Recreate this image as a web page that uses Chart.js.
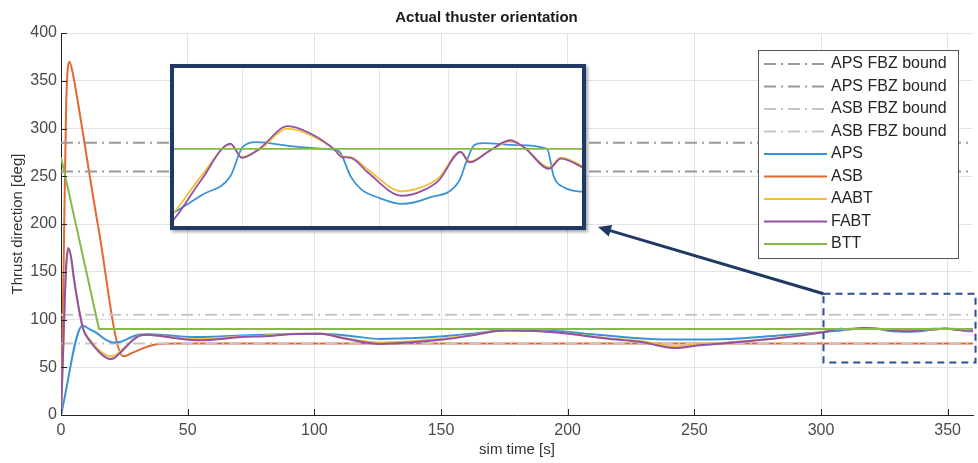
<!DOCTYPE html>
<html>
<head>
<meta charset="utf-8">
<title>Actual thuster orientation</title>
<script src="https://cdn.jsdelivr.net/npm/chart.js@4.4.1/dist/chart.umd.min.js"></script>
<style>
  html, body { margin: 0; padding: 0; background: #fff; }
  #wrap { position: relative; width: 978px; height: 463px; }
  #mainChart { position: absolute; left: 0; top: 0; }
  #inset {
    position: absolute; left: 170px; top: 64px;
    width: 408px; height: 158px;
    border: 4px solid #1f3864;
    box-shadow: 2px 2px 3px rgba(0, 0, 0, 0.35);
    background: #fff;
  }
  #insetChart { display: block; }
</style>
</head>
<body>
<div id="wrap">
  <canvas id="mainChart" width="978" height="463"></canvas>
  <div id="inset"><canvas id="insetChart" width="408" height="158"></canvas></div>
</div>
<script>
// ---- data ----
const seriesNames = ['APS FBZ bound', 'APS FBZ bound', 'ASB FBZ bound', 'ASB FBZ bound', 'APS', 'ASB', 'AABT', 'FABT', 'BTT'];
const xTicks = [0, 50, 100, 150, 200, 250, 300, 350];
const yTicks = [0, 50, 100, 150, 200, 250, 300, 350, 400];
const insetTicks = [310, 320, 330, 340, 350];

// forbidden zone bounds [deg]
const boundTime = [0, 360];
const apsBounds = [285, 255];
const asbBounds = [105, 75];

// APS
const apsTime = [0, 8.5, 11.5, 14, 17, 20.7, 24, 28.6, 31.2, 35, 42, 51, 60, 70.8, 80, 90.5, 102.4, 115, 126, 140,
  151, 162, 174.7, 185, 197, 210, 225, 240.7, 263, 282, 300, 304, 308.25, 310, 312, 317, 322.3, 324, 325.8, 327.3,
  330, 333.2, 337, 341.6, 342.6, 343.8, 345, 350, 354.4, 355.4, 356.9, 360];
const apsDir = [0, 93.5, 89.5, 86, 80, 76, 77, 82.5, 84.2, 84.5, 83.5, 81.8, 82, 83.2, 84, 84.9, 85, 82.5, 79.7, 80.5,
  82.5, 85, 88.4, 88.5, 87.7, 84.5, 81, 79, 79.7, 83, 86.7, 87.6, 88.6, 90.1, 90.35, 90.15, 90.0, 89.9, 88.55, 87.9,
  87.45, 87.15, 87.45, 88.35, 89.3, 90.2, 90.3, 90.2, 90.0, 88.55, 88.0, 87.75];

// ASB
const asbTime = [0, 1, 2, 3.3, 4.5, 6, 14.7, 24.6, 28.6, 32.5, 37.8, 45, 360];
const asbDir = [0, 150, 320, 370, 360, 338, 197, 61.4, 65.5, 70, 74, 75, 75];

// AABT and FABT (same sample times)
const abtTime = [0, 1, 2, 2.9, 4, 5, 6.2, 7.5, 8.8, 11.5, 15.4, 19.4, 21, 24.6, 28, 31.2, 34, 37.8, 45, 55,
  63, 70.8, 80, 93, 102.4, 112, 126, 140, 151, 161.7, 174.7, 185, 197, 215, 230, 242, 252, 263, 282, 300,
  304, 308.25, 309.9, 312.4, 316.6, 319.9, 323.3, 324.5, 325.8, 328.2, 333.2, 336, 338.6, 341.8, 343.1, 346, 349, 351, 354.7, 356.4,
  360];
const aabtDir = [0, 78, 152, 173, 164, 144, 124, 105, 90, 78.5, 67, 61.5, 62, 69.5, 78, 83.5, 84, 83.2, 81, 79.5,
  80.5, 82.3, 83, 85, 85, 80.5, 76, 77.5, 80, 83.6, 88.4, 88.3, 86.2, 80.7, 77, 72, 74, 76, 80.5, 86.7,
  88.6, 90.22, 89.58, 89.95, 91.05, 90.72, 90.0, 89.62, 89.58, 88.95, 87.8, 88.0, 88.5, 89.86, 89.35, 89.9, 90.38, 90.1, 89.05, 89.55,
  89.05];
const fabtDir = [0, 80, 155, 175, 165, 145, 124.5, 105, 89.5, 77.2, 65, 58.6, 59.5, 68.4, 77.5, 83.2, 84, 83.2, 80.5, 78.2,
  79.5, 81.8, 82.5, 84.9, 85, 80, 74.4, 76.5, 79, 83.2, 88.4, 88.2, 86, 80, 76, 70.2, 73, 75.4, 80, 86.35,
  88.4, 90.28, 89.54, 90.0, 91.18, 90.8, 90.0, 89.58, 89.54, 88.8, 87.57, 87.8, 88.36, 89.84, 89.3, 89.9, 90.45, 90.1, 88.97, 89.5,
  88.97];

// BTT
const bttTime = [0, 15, 360];
const bttDir = [270, 90, 90];

// ---- styling ----
const FONT = "'Liberation Sans', Arial, Helvetica, sans-serif";
const NAVY = '#1f3864';
const colors = ['#9a9a9a', '#9a9a9a', '#c6c6c6', '#c6c6c6', '#3a93d6', '#e4682f', '#f2bf3a', '#9052a8', '#86b84a'];
const drawOrder = [4, 4, 5, 5, 3, 6, 2, 1, 0];   // lower = on top

function pts(ts, vs) {
    return ts.map((t, i) => ({ x: t, y: vs[i] }));
}

function buildDatasets(lineWidth) {
    const series = [
        pts(boundTime, [apsBounds[0], apsBounds[0]]),
        pts(boundTime, [apsBounds[1], apsBounds[1]]),
        pts(boundTime, [asbBounds[0], asbBounds[0]]),
        pts(boundTime, [asbBounds[1], asbBounds[1]]),
        pts(apsTime, apsDir),
        pts(asbTime, asbDir),
        pts(abtTime, aabtDir),
        pts(abtTime, fabtDir),
        pts(bttTime, bttDir)
    ];
    return series.map((data, i) => {
        const isBound = i < 4;
        return {
            label: seriesNames[i],
            data: data,
            borderColor: colors[i],
            backgroundColor: colors[i],
            borderWidth: isBound ? 2 : lineWidth,
            borderDash: isBound ? [12, 5, 2, 5] : [],
            pointRadius: 0,
            fill: false,
            order: drawOrder[i],
            tension: 0,
            cubicInterpolationMode: (isBound || i === 8) ? 'default' : 'monotone'
        };
    });
}

// inward tick marks on left and bottom axes
const innerTicks = {
    id: 'innerTicks',
    afterDraw(chart) {
        const ctx = chart.ctx;
        const a = chart.chartArea;
        const xs = chart.scales.x, ys = chart.scales.y;
        ctx.save();
        ctx.strokeStyle = '#262626';
        ctx.lineWidth = 1;
        ctx.beginPath();
        xTicks.forEach(v => {
            const px = Math.round(xs.getPixelForValue(v)) + 0.5;
            ctx.moveTo(px, a.bottom);
            ctx.lineTo(px, a.bottom - 6);
        });
        yTicks.forEach(v => {
            const py = Math.round(ys.getPixelForValue(v)) + 0.5;
            ctx.moveTo(a.left, py);
            ctx.lineTo(a.left + 6, py);
        });
        ctx.stroke();
        ctx.restore();
    }
};

// dashed zoom region plus arrow toward the inset
const zoomRegion = { t0: 301, t1: 361, v0: 55, v1: 127 };
const zoomMarker = {
    id: 'zoomMarker',
    afterDraw(chart) {
        const ctx = chart.ctx;
        const xs = chart.scales.x, ys = chart.scales.y;
        const x0 = xs.getPixelForValue(zoomRegion.t0);
        const x1 = xs.getPixelForValue(zoomRegion.t1);
        const y0 = ys.getPixelForValue(zoomRegion.v1);
        const y1 = ys.getPixelForValue(zoomRegion.v0);
        ctx.save();
        ctx.strokeStyle = '#2f4f8f';
        ctx.lineWidth = 2;
        ctx.setLineDash([7, 5]);
        ctx.strokeRect(x0, y0, x1 - x0, y1 - y0);
        ctx.setLineDash([]);

        // arrow
        const tipX = 598, tipY = 227;
        const ang = Math.atan2(tipY - y0, tipX - x0);
        ctx.strokeStyle = NAVY;
        ctx.fillStyle = NAVY;
        ctx.lineWidth = 3;
        ctx.beginPath();
        ctx.moveTo(x0, y0);
        ctx.lineTo(tipX - 10 * Math.cos(ang), tipY - 10 * Math.sin(ang));
        ctx.stroke();
        ctx.beginPath();
        ctx.moveTo(tipX, tipY);
        ctx.lineTo(tipX - 13 * Math.cos(ang) + 6 * Math.sin(ang), tipY - 13 * Math.sin(ang) - 6 * Math.cos(ang));
        ctx.lineTo(tipX - 13 * Math.cos(ang) - 6 * Math.sin(ang), tipY - 13 * Math.sin(ang) + 6 * Math.cos(ang));
        ctx.closePath();
        ctx.fill();
        ctx.restore();
    }
};

// MATLAB style legend box inside the axes
const boxLegend = {
    id: 'boxLegend',
    afterDraw(chart) {
        const ctx = chart.ctx;
        const bx = 758, by = 50, bw = 200, bh = 208;
        ctx.save();
        ctx.fillStyle = '#fff';
        ctx.fillRect(bx, by, bw, bh);
        ctx.strokeStyle = '#555';
        ctx.lineWidth = 1;
        ctx.strokeRect(bx + 0.5, by + 0.5, bw, bh);
        ctx.font = '16px ' + FONT;
        ctx.textBaseline = 'middle';
        chart.data.datasets.forEach((ds, i) => {
            const y = by + 14 + i * 22.5;
            ctx.strokeStyle = ds.borderColor;
            ctx.lineWidth = 2;
            ctx.setLineDash(ds.borderDash);
            ctx.beginPath();
            ctx.moveTo(bx + 6, y);
            ctx.lineTo(bx + 69, y);
            ctx.stroke();
            ctx.setLineDash([]);
            ctx.fillStyle = '#262626';
            ctx.fillText(ds.label, bx + 73, y);
        });
        ctx.restore();
    }
};

// Main chart
new Chart(document.getElementById('mainChart'), {
    type: 'line',
    data: { datasets: buildDatasets(2) },
    options: {
        responsive: false,
        animation: false,
        events: [],
        layout: { padding: { left: 0, right: 5, top: 0, bottom: 0 } },
        plugins: {
            legend: { display: false },
            tooltip: { enabled: false },
            title: {
                display: true,
                text: 'Actual thuster orientation',
                color: '#1a1a1a',
                font: { family: FONT, size: 15, weight: 'bold' },
                padding: { top: 9, bottom: 6 }
            }
        },
        scales: {
            x: {
                type: 'linear',
                min: 0,
                max: 360,
                afterBuildTicks: (s) => { s.ticks = xTicks.map(v => ({ value: v })); },
                afterFit: (s) => { s.height = 48; },
                grid: { color: '#e2e2e2', drawTicks: false },
                border: { color: '#262626', width: 1 },
                ticks: { color: '#4a4a4a', font: { family: FONT, size: 16 }, padding: 6, maxRotation: 0 },
                title: {
                    display: true,
                    text: 'sim time [s]',
                    color: '#333',
                    font: { family: FONT, size: 15 },
                    padding: { top: 0, bottom: 4 }
                }
            },
            y: {
                type: 'linear',
                min: 0,
                max: 400,
                afterBuildTicks: (s) => { s.ticks = yTicks.map(v => ({ value: v })); },
                afterFit: (s) => { s.width = 61; },
                grid: { color: '#e2e2e2', drawTicks: false },
                border: { color: '#262626', width: 1 },
                ticks: { color: '#4a4a4a', font: { family: FONT, size: 16 }, padding: 4 },
                title: {
                    display: true,
                    text: 'Thrust direction [deg]',
                    color: '#333',
                    font: { family: FONT, size: 15 },
                    padding: { top: 9, bottom: 0 }
                }
            }
        }
    },
    plugins: [innerTicks, zoomMarker, boxLegend]
});

// Zoomed inset, 300-360 s
new Chart(document.getElementById('insetChart'), {
    type: 'line',
    data: { datasets: buildDatasets(1.8) },
    options: {
        responsive: false,
        animation: false,
        events: [],
        layout: { padding: 0 },
        plugins: {
            legend: { display: false },
            tooltip: { enabled: false },
            title: { display: false }
        },
        scales: {
            x: {
                type: 'linear',
                min: 300,
                max: 359.5,
                afterBuildTicks: (s) => { s.ticks = insetTicks.map(v => ({ value: v })); },
                afterFit: (s) => { s.height = 0; },
                grid: { color: '#e6e6e6', drawTicks: false },
                border: { display: false },
                ticks: { display: false }
            },
            y: {
                type: 'linear',
                min: 86,
                max: 94.2,
                display: false
            }
        }
    }
});
</script>
</body>
</html>
